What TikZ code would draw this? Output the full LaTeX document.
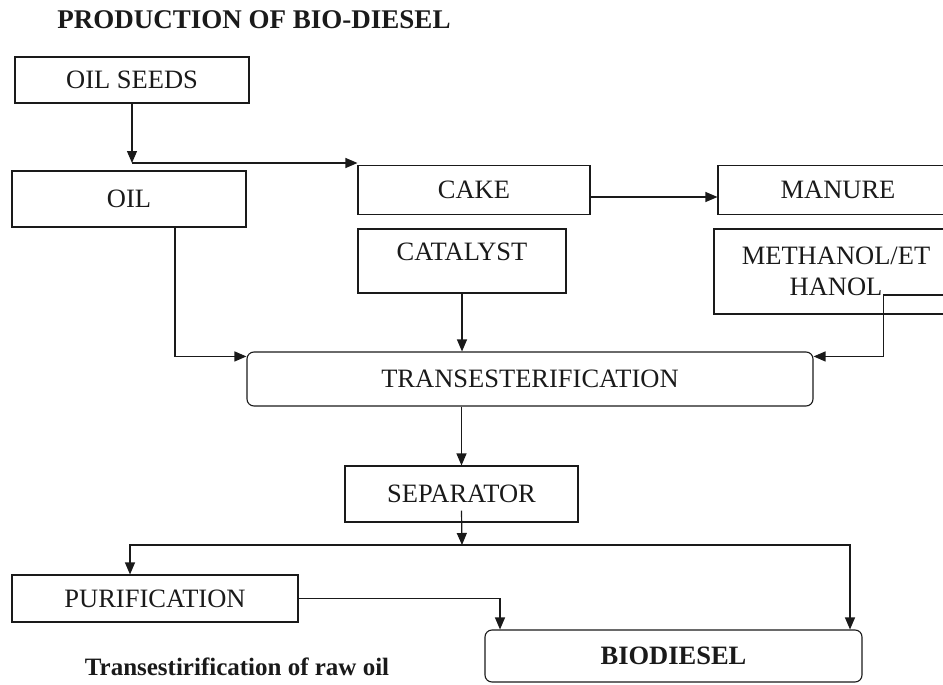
\documentclass[tikz,border=0pt]{standalone}
\usepackage{fontspec}
\setmainfont{Liberation Serif}
\usepackage{xcolor}
\usetikzlibrary{arrows.meta,positioning,calc}
\definecolor{BioInk}{HTML}{1A1A1A}
\tikzset{
  procbox/.style={draw=BioInk,line width=1.1pt,rectangle,inner sep=0pt,align=center,font=\fontsize{26.5}{31}\selectfont,text=BioInk},
  roundbox/.style={procbox,rounded corners=7pt},
  flowarrow/.style={-{Triangle[length=12pt,width=10pt]},line width=1.2pt,draw=BioInk},
  headtext/.style={font=\fontsize{27}{30}\selectfont\bfseries,text=BioInk}
}

\begin{document}
\begin{tikzpicture}[x=1pt,y=-1pt]
\useasboundingbox (0,0) rectangle (943,685);
\node[headtext] (title) at (254,20) {PRODUCTION OF BIO-DIESEL};
\node[procbox,minimum width=234,minimum height=46] (seeds) at (132,80) {OIL SEEDS};
\node[procbox,minimum width=234,minimum height=56] (oil) at (129,199) {OIL};
\node[procbox,minimum width=232,minimum height=49] (cake) at (474,190) {CAKE};
\node[procbox,minimum width=240,minimum height=49] (manure) at (838,190) {MANURE};
\node[procbox,minimum width=208,minimum height=64,text depth=18pt] (catalyst) at (462,261) {CATALYST};
\node[procbox,minimum width=244,minimum height=85] (methanol) at (836,271.5) {METHANOL/ET\\HANOL};
\node[roundbox,minimum width=566,minimum height=54] (trans) at (530,379) {TRANSESTERIFICATION};
\node[procbox,minimum width=233,minimum height=56] (separator) at (461.5,494) {SEPARATOR};
\node[procbox,minimum width=286,minimum height=47] (purif) at (155,598.5) {PURIFICATION};
\node[roundbox,minimum width=377,minimum height=52,font=\fontsize{26.5}{31}\selectfont\bfseries] (biodiesel) at (673.5,656) {BIODIESEL};
\node[headtext,font=\fontsize{25}{30}\selectfont\bfseries] (caption) at (237,667) {Transestirification of raw oil};
\coordinate (split) at (132,163);
\coordinate (branch) at (462,545);
\draw[flowarrow] (seeds) -- (split);
\draw[flowarrow] (split) -- (split -| cake.north west);
\draw[flowarrow] ([yshift=-7pt]cake.east) -- ([yshift=-7pt]manure.west);
\draw[flowarrow] ([xshift=46pt]oil.south) |- ([yshift=-5pt]trans.north west);
\draw[flowarrow] (catalyst.south) -- (catalyst.south |- trans.north);
\draw[flowarrow] ([yshift=-23.5pt]methanol.east) -| ([xshift=70pt,yshift=-5pt]trans.north east) -- ([yshift=-5pt]trans.north east);
\draw[flowarrow] (trans.south -| separator.north) -- (separator.north);
\draw[flowarrow] ([yshift=12pt]separator.south) -- (branch);
\draw[flowarrow] (branch) -| ([xshift=-25pt]purif.north);
\draw[flowarrow] (branch) -| ([xshift=176.5pt]biodiesel.north);
\draw[flowarrow] (purif.east) -| ([xshift=-173.5pt]biodiesel.north);
\end{tikzpicture}
\end{document}
